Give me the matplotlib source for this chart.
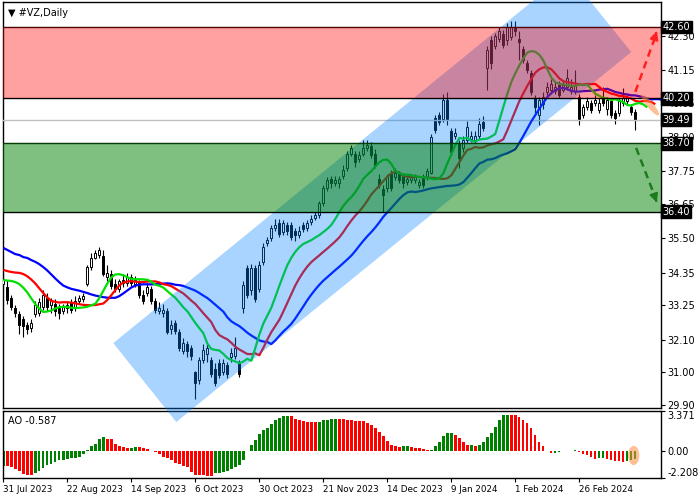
import numpy as np
import matplotlib.pyplot as plt
from matplotlib.patches import Polygon, Ellipse
import matplotlib.transforms as mtransforms

plt.rcParams['font.family'] = ['DejaVu Sans']

# --- данные (дневные свечи #VZ) ---
dates = ["31 Jul 2023", "22 Aug 2023", "14 Sep 2023", "6 Oct 2023", "30 Oct 2023",
         "21 Nov 2023", "14 Dec 2023", "9 Jan 2024", "1 Feb 2024", "26 Feb 2024"]
date_bars = [0, 16, 32, 48, 64, 80, 96, 112, 128, 144]

opens = [33.95, 33.87, 33.50, 33.15, 32.95, 32.80, 32.60, 32.50, 32.95, 33.00,
         33.20, 33.50, 33.25, 33.30, 33.15, 33.05, 33.15, 33.35, 33.15, 33.40,
         33.45, 33.95, 34.55, 34.85, 34.95, 34.90, 34.20, 34.30, 33.95, 33.80,
         34.10, 34.00, 34.20, 33.95, 34.00, 33.60, 33.65, 33.80, 33.40, 33.05,
         33.00, 33.05, 32.45, 32.65, 32.35, 31.70, 31.95, 31.80, 31.00, 30.75,
         31.40, 31.60, 31.40, 31.10, 31.30, 31.00, 31.25, 31.50, 31.55, 31.30,
         33.15, 34.50, 33.75, 34.50, 33.80, 34.70, 35.35, 35.50, 35.85, 36.00,
         35.70, 35.95, 35.95, 35.75, 35.60, 35.95, 35.85, 36.05, 36.20, 36.30,
         36.70, 37.20, 37.50, 37.35, 37.35, 37.60, 37.85, 38.35, 38.35, 38.15,
         38.35, 38.55, 38.60, 38.35, 37.50, 37.15, 37.20, 37.70, 37.55, 37.65,
         37.60, 37.40, 37.45, 37.45, 37.30, 37.55, 37.55, 37.70, 39.55, 39.65,
         39.50, 40.15, 39.10, 38.95, 38.70, 38.55, 38.80, 38.85, 38.80, 38.95,
         39.40, 41.22, 42.17, 41.95, 42.20, 42.35, 42.15, 42.25, 42.60, 42.20,
         41.85, 41.40, 41.05, 40.20, 39.65, 40.00, 40.40, 40.50, 40.45, 40.65,
         40.50, 40.60, 40.45, 40.45, 40.25, 39.65, 39.90, 40.05, 40.05, 39.80,
         40.25, 39.85, 40.10, 39.70, 39.70, 40.05, 40.10, 39.90, 39.75]
highs = [34.30, 34.10, 33.60, 33.25, 33.05, 32.90, 32.70, 32.80, 33.40, 33.50,
         33.75, 33.65, 33.50, 33.45, 33.30, 33.30, 33.40, 33.45, 33.55, 33.60,
         33.65, 34.60, 35.00, 35.10, 35.20, 35.10, 34.60, 34.45, 34.15, 34.15,
         34.30, 34.35, 34.30, 34.25, 34.10, 33.75, 34.00, 33.90, 33.50, 33.35,
         33.30, 33.15, 32.75, 32.75, 32.45, 32.15, 32.05, 31.90, 31.05, 31.50,
         31.95, 31.95, 31.50, 31.30, 31.45, 31.45, 31.35, 31.80, 32.20, 31.40,
         34.05, 34.60, 34.65, 34.60, 34.75, 35.35, 35.55, 35.95, 36.15, 36.15,
         36.10, 36.05, 36.05, 35.85, 35.90, 36.05, 36.10, 36.30, 36.40, 36.75,
         37.30, 37.55, 37.60, 37.60, 37.60, 37.95, 38.45, 38.65, 38.45, 38.45,
         38.80, 38.80, 38.75, 38.50, 37.65, 37.30, 37.65, 37.80, 37.85, 37.75,
         37.70, 37.60, 37.65, 37.65, 37.50, 37.65, 37.85, 39.00, 39.65, 39.75,
         40.35, 40.40, 39.20, 39.20, 38.80, 38.95, 39.45, 39.10, 39.10, 39.55,
         39.60, 41.95, 42.30, 42.40, 42.60, 42.50, 42.75, 42.80, 42.80, 42.45,
         41.95, 41.50, 41.15, 40.30, 40.25, 40.40, 40.75, 40.85, 40.75, 40.80,
         40.80, 41.20, 40.85, 41.15, 40.35, 40.00, 40.25, 40.15, 40.30, 40.20,
         40.60, 40.25, 40.20, 39.80, 40.20, 40.55, 40.30, 40.00, 39.85]
lows = [33.80, 33.30, 33.10, 32.85, 32.30, 32.20, 32.30, 32.35, 32.85, 32.90,
        33.10, 33.05, 33.00, 32.90, 32.80, 32.95, 33.00, 33.00, 33.05, 33.30,
        33.35, 33.90, 34.45, 34.80, 34.85, 34.25, 34.05, 33.80, 33.70, 33.70,
        33.85, 33.90, 33.90, 33.85, 33.50, 33.30, 33.55, 33.30, 33.00, 32.95,
        32.85, 32.30, 32.30, 32.30, 31.70, 31.60, 31.50, 31.40, 30.10, 30.60,
        31.30, 31.35, 30.85, 30.55, 30.80, 30.90, 30.80, 31.35, 31.45, 30.85,
        33.00, 33.50, 33.60, 33.35, 33.70, 34.60, 35.25, 35.40, 35.75, 35.55,
        35.60, 35.60, 35.45, 35.40, 35.50, 35.70, 35.75, 35.95, 36.10, 36.20,
        36.60, 37.10, 37.20, 37.25, 37.20, 37.50, 37.75, 38.25, 37.90, 38.05,
        38.25, 38.45, 38.20, 37.85, 37.20, 36.40, 37.05, 37.10, 37.45, 37.35,
        37.20, 37.30, 37.35, 37.35, 37.20, 37.20, 37.45, 37.65, 39.05, 39.30,
        39.40, 39.30, 38.30, 38.85, 37.85, 38.40, 38.70, 38.75, 38.70, 38.85,
        39.10, 40.50, 41.20, 41.85, 42.10, 41.90, 42.00, 42.15, 42.30, 41.50,
        41.40, 41.05, 40.30, 39.70, 39.30, 39.85, 40.20, 40.35, 40.35, 40.20,
        40.40, 40.50, 40.35, 40.35, 39.30, 39.55, 39.80, 39.70, 39.95, 39.70,
        39.95, 39.65, 39.55, 39.35, 39.60, 39.95, 40.00, 39.65, 39.14]
closes = [34.15, 33.43, 33.20, 33.00, 32.60, 32.55, 32.45, 32.65, 33.25, 33.35,
          33.60, 33.20, 33.40, 33.05, 33.00, 33.20, 33.25, 33.10, 33.40, 33.50,
          33.55, 34.55, 34.85, 35.00, 35.10, 34.30, 34.35, 33.90, 33.80, 34.05,
          34.00, 34.20, 34.00, 34.10, 33.60, 33.40, 33.85, 33.40, 33.10, 33.15,
          33.10, 32.35, 32.60, 32.40, 31.80, 32.00, 31.70, 31.55, 30.65, 31.40,
          31.75, 31.80, 30.95, 30.65, 30.90, 31.30, 30.95, 31.65, 31.80, 30.95,
          33.93, 33.60, 34.50, 33.45, 34.60, 35.20, 35.45, 35.85, 35.95, 35.65,
          36.00, 35.75, 35.55, 35.60, 35.75, 35.80, 36.00, 36.15, 36.30, 36.70,
          37.20, 37.45, 37.35, 37.45, 37.50, 37.80, 38.35, 38.55, 38.05, 38.30,
          38.55, 38.65, 38.30, 37.95, 37.30, 36.95, 37.55, 37.20, 37.70, 37.45,
          37.35, 37.50, 37.55, 37.55, 37.40, 37.30, 37.75, 38.90, 39.15, 39.40,
          40.15, 39.50, 38.40, 39.05, 38.20, 38.80, 39.25, 38.95, 38.95, 39.35,
          39.20, 41.83, 41.40, 42.30, 42.45, 42.00, 42.60, 42.60, 42.45, 42.10,
          41.50, 41.15, 40.40, 39.90, 40.15, 40.25, 40.60, 40.70, 40.60, 40.30,
          40.65, 40.90, 40.60, 40.65, 39.50, 39.90, 40.10, 39.80, 40.15, 40.05,
          40.05, 40.15, 39.65, 39.55, 40.10, 40.20, 40.20, 39.75, 39.49]

# Awesome Oscillator, значения столбиков
ao = [-1.22, -1.23, -1.31, -1.50, -1.64, -1.86, -1.92, -1.97, -1.78, -1.64,
      -1.36, -1.14, -1.03, -0.86, -0.75, -0.69, -0.62, -0.58, -0.53, -0.44,
      -0.25, 0.10, 0.44, 0.64, 1.00, 1.17, 1.08, 1.00, 0.64, 0.47,
      0.36, 0.28, 0.31, 0.36, 0.35, 0.31, 0.22, 0.08, -0.08, -0.25,
      -0.42, -0.58, -0.75, -0.94, -1.08, -1.25, -1.31, -1.72, -1.92, -1.97,
      -1.99, -2.00, -2.01, -1.78, -1.76, -1.72, -1.64, -1.50, -1.31, -1.14,
      -0.67, 0.03, 0.50, 0.92, 1.47, 1.75, 1.97, 2.25, 2.61, 2.81,
      2.92, 2.93, 2.92, 2.67, 2.58, 2.53, 2.47, 2.44, 2.43, 2.46,
      2.58, 2.64, 2.69, 2.71, 2.70, 2.68, 2.64, 2.58, 2.57, 2.56,
      2.50, 2.36, 2.17, 1.94, 1.61, 1.25, 0.89, 0.56, 0.42, 0.41,
      0.42, 0.44, 0.36, 0.33, 0.28, 0.19, 0.14, 0.15, 0.47, 0.83,
      1.25, 1.53, 1.54, 1.39, 1.11, 0.75, 0.56, 0.57, 0.47, 0.56,
      0.75, 1.19, 1.53, 2.08, 2.58, 3.06, 3.07, 3.06, 3.05, 2.86,
      2.64, 2.36, 1.94, 1.39, 0.83, 0.42, 0.06, -0.14, -0.11, -0.05,
      0.02, 0.06, 0.08, 0.14, -0.08, -0.22, -0.33, -0.50, -0.64, -0.56,
      -0.55, -0.64, -0.69, -0.78, -0.83, -0.84, -0.78, -0.69, -0.587]

# Alligator: стартовые значения линий на левом краю графика
jaw_seed = [35.18, 35.11, 35.04, 34.97, 34.94, 34.87, 34.84, 34.77, 34.71]
teeth_seed = [34.44, 34.40, 34.37, 34.35, 34.34, 34.30]
lips_seed = [34.10, 34.08, 34.07, 34.03]

# уровни и фигуры
y_ticks = [42.30, 41.15, 40.05, 38.90, 37.75, 36.65, 35.50, 34.35, 33.25, 32.10, 31.00, 29.90]
red_zone = (40.20, 42.60)
green_zone = (36.40, 38.70)
bid = 39.49
channel = [(27.5, 31.98), (141.0, 44.42), (157.0, 41.76), (43.25, 29.33)]

opens, highs, lows, closes = map(np.array, (opens, highs, lows, closes))
x = np.arange(len(closes))
median = (highs + lows) / 2


def alligator_line(seed, period):
    shift = len(seed) - 1
    vals = [seed[-1]]
    for m in median[1:]:
        vals.append((vals[-1] * (period - 1) + m) / period)
    xs = np.arange(len(seed) + len(vals) - 1)
    ys = np.concatenate([seed[:-1], vals])
    return xs, ys


fig = plt.figure(figsize=(7, 5), dpi=100)
ax_ao = fig.add_axes([2.5 / 700, 1 - 478 / 500, 658 / 700, 67 / 500])
ax = fig.add_axes([2.5 / 700, 1 - 408 / 500, 658 / 700, 406 / 500], zorder=3)

x0 = -0.2
x1 = 164.3

# свечи
up = closes >= opens
ax.vlines(x, lows, highs, color='black', lw=0.8, zorder=2)
ax.bar(x, np.maximum(np.abs(closes - opens), 0.01), bottom=np.minimum(opens, closes), width=0.55,
       color=np.where(up, 'white', 'black'), edgecolor='black', linewidth=0.7, zorder=3)

# линии Alligator
for seed, period, col in [(jaw_seed, 13, '#0000FF'), (teeth_seed, 8, '#FF0000'), (lips_seed, 5, '#00E000')]:
    xs, ys = alligator_line(seed, period)
    ax.plot(xs, ys, color=col, lw=1.6, zorder=4, solid_capstyle='butt')

# канал и зоны
ax.add_patch(Polygon(channel, closed=True, fc=(0, 0.51, 1.0, 0.34), ec='none', zorder=5, clip_on=False))
for lv in [red_zone[1], red_zone[0], green_zone[1], green_zone[0]]:
    ax.axhline(lv, color='black', lw=1.0, zorder=5.5)
ax.axhspan(*red_zone, color=(1, 0, 0, 0.37), lw=0, zorder=6)
ax.axhspan(*green_zone, color=(0, 0.5, 0, 0.5), lw=0, zorder=6)
ax.axhline(bid, color='#C0C0C0', lw=1.0, zorder=3.5)

# прогноз
ax.add_patch(Ellipse((161.7, 39.98), 4.5, 0.32, angle=-8, fc=(1, 0.55, 0.25, 0.55), ec='none', zorder=7))
ax.plot([158.0, 163.2], [40.42, 42.35], color='#FF2020', lw=1.8, ls=(0, (3, 2)), zorder=8)
ax.annotate('', xy=(163.6, 42.55), xytext=(163.0, 42.30),
            arrowprops=dict(arrowstyle='-|>', color='#FF2020', lw=1.5, mutation_scale=12), zorder=8)
ax.plot([158.2, 163.2], [38.54, 36.80], color='#1E7A1E', lw=1.8, ls=(0, (3, 2)), zorder=8)
ax.annotate('', xy=(163.6, 36.62), xytext=(163.0, 36.85),
            arrowprops=dict(arrowstyle='-|>', color='#1E7A1E', lw=1.5, mutation_scale=12), zorder=8)

ax.set_xlim(x0, x1)
ax.set_ylim(29.80, 43.44)
ax.set_xticks([])
ax.yaxis.tick_right()
ax.set_yticks(y_ticks)
ax.set_yticklabels([f"{v:.2f}" for v in y_ticks])
ax.tick_params(axis='y', labelsize=7, length=3, width=0.8, pad=2)
for s in ax.spines.values():
    s.set_linewidth(1.0)

trans = mtransforms.blended_transform_factory(ax.transAxes, ax.transData)
for lv in [red_zone[1], red_zone[0], bid, green_zone[1], green_zone[0]]:
    ax.text(1.003, lv, f"{lv:.2f}", transform=trans, color='white', fontsize=7, va='center', ha='left',
            bbox=dict(boxstyle='square,pad=0.15', fc='black', ec='black'), clip_on=False, zorder=20)

ax.text(0.008, 0.985, "\u25BC #VZ,Daily", transform=ax.transAxes, fontsize=7, va='top', ha='left', zorder=20)

# AO
ao = np.array(ao)
colors = ['#008000'] + ['#008000' if ao[i] > ao[i - 1] else '#FF0000' for i in range(1, len(ao))]
ax_ao.bar(x, ao, width=0.6, color=colors, zorder=2)
ax_ao.add_patch(Ellipse((157.6, -0.33), 2.8, 1.6, fc=(1, 0.55, 0.25, 0.55), ec='none', zorder=3))
ax_ao.set_xlim(x0, x1)
ax_ao.set_ylim(-2.208, 3.371)
ax_ao.yaxis.tick_right()
ax_ao.set_yticks([3.371, 0.0, -2.208])
ax_ao.set_yticklabels(["3.371", "0.00", "-2.208"])
ax_ao.tick_params(axis='y', labelsize=7, length=3, width=0.8, pad=2)
labs = ax_ao.get_yticklabels()
labs[0].set_va('top')
labs[2].set_va('bottom')
ax_ao.set_xticks(date_bars)
ax_ao.set_xticklabels(dates, ha='left', fontsize=6.3)
ax_ao.tick_params(axis='x', length=3, width=0.8, pad=2)
ax_ao.text(0.008, 0.93, "AO -0.587", transform=ax_ao.transAxes, fontsize=7, va='top', ha='left')
for s in ax_ao.spines.values():
    s.set_linewidth(1.0)

fig.savefig('out.png', dpi=100)
